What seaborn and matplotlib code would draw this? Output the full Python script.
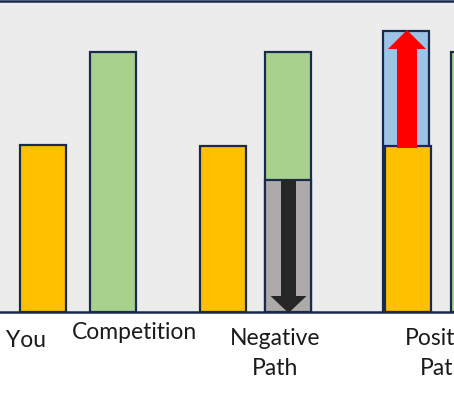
import matplotlib
matplotlib.use("Agg")
import matplotlib.pyplot as plt
from matplotlib.patches import FancyArrow
import seaborn as sns
import pandas as pd

# ---------------- data ----------------
labels = ["You", "Competition", "Negative\nPath", "Positive\nPath"]
you_value = 167
competition_value = 260
negative_before = 166        # orange bar of the negative path
negative_after = 132         # gray (remaining) part
negative_total = 260         # green total (lost share on top)
positive_before = 166        # orange base of positive path
positive_total = 281         # blue total (gain on top)
next_value = 260             # partially visible green bar at right edge

# ---------------- layout / style ----------------
W, H, DPI = 454, 398, 100
bar_x = {"you": 43, "comp": 112.5, "neg_o": 222.5, "neg_s": 287.5, "pos": 408,
         "pos_top": 405.5, "next": 474}
bar_px_width = 46
navy = "#182B4C"
palette = {"green": "#A9D18E", "blue": "#9DC3E6", "orange": "#FFC000", "gray": "#AEAAAA"}
hue_order = ["green", "orange", "gray"]

rows = [
    (bar_x["you"], you_value, "orange"),
    (bar_x["comp"], competition_value, "green"),
    (bar_x["neg_o"], negative_before, "orange"),
    (bar_x["neg_s"], negative_total, "green"),
    (bar_x["neg_s"], negative_after, "gray"),
    (bar_x["pos"], positive_before, "orange"),
    (bar_x["next"], next_value, "green"),
]
df = pd.DataFrame(rows, columns=["x", "value", "part"])
df_gain = pd.DataFrame({"x": [bar_x["pos_top"]], "value": [positive_total], "part": ["blue"]})

fig = plt.figure(figsize=(W / DPI, H / DPI), dpi=DPI, facecolor="white")
ax_top, ax_bot = 1, 312
ax = fig.add_axes([0, (H - ax_bot) / H, 1, (ax_bot - ax_top) / H])
ax.set_facecolor("#ECECEC")

# gain box (drawn first, behind the orange base)
sns.barplot(data=df_gain, x="x", y="value", hue="part", palette=palette,
            dodge=False, native_scale=True, saturation=1, width=bar_px_width,
            errorbar=None, legend=False, edgecolor=navy, linewidth=1.6, ax=ax)

positions = sorted(set(df["x"]))
native_w = min(b - a for a, b in zip(positions, positions[1:]))
sns.barplot(data=df, x="x", y="value", hue="part", hue_order=hue_order,
            palette=palette, dodge=False, native_scale=True, saturation=1,
            width=bar_px_width / native_w, errorbar=None, legend=False,
            edgecolor=navy, linewidth=1.6, ax=ax)

ax.set_xlim(0, W)
ax.set_ylim(0, ax_bot - ax_top)
ax.set_xlabel("")
ax.set_ylabel("")
ax.set_xticks([])
ax.set_yticks([])
for s in ["left", "right"]:
    ax.spines[s].set_visible(False)
for s in ["top", "bottom"]:
    ax.spines[s].set_color(navy)
    ax.spines[s].set_linewidth(1.8)

# arrows (derived from the bar values)
ax.add_patch(FancyArrow(bar_x["neg_s"] + 1, negative_after, 0, -negative_after - 1,
                        width=15, head_width=36, head_length=17,
                        length_includes_head=True, color="#262626", lw=0,
                        clip_on=False, zorder=5))
ax.add_patch(FancyArrow(bar_x["pos_top"] + 1.5, positive_before - 2, 0,
                        positive_total - positive_before + 3,
                        width=20, head_width=38, head_length=19,
                        length_includes_head=True, color="#FF0000", lw=0,
                        clip_on=False, zorder=5))

# category labels (one text per line, baseline positions in pixels)
label_lines = [
    [(26, 347)],
    [(134.5, 339)],
    [(275, 345), (275, 375)],
    [(445, 345), (443, 375)],
]
for text, lines in zip(labels, label_lines):
    for part, (px, py) in zip(text.split("\n"), lines):
        fig.text(px / W, 1 - py / H, part, ha="center", va="baseline",
                 fontsize=16.5, family=["Lato", "DejaVu Sans"], color="#1A1A1A")

fig.savefig("out.png", dpi=DPI, facecolor="white")
